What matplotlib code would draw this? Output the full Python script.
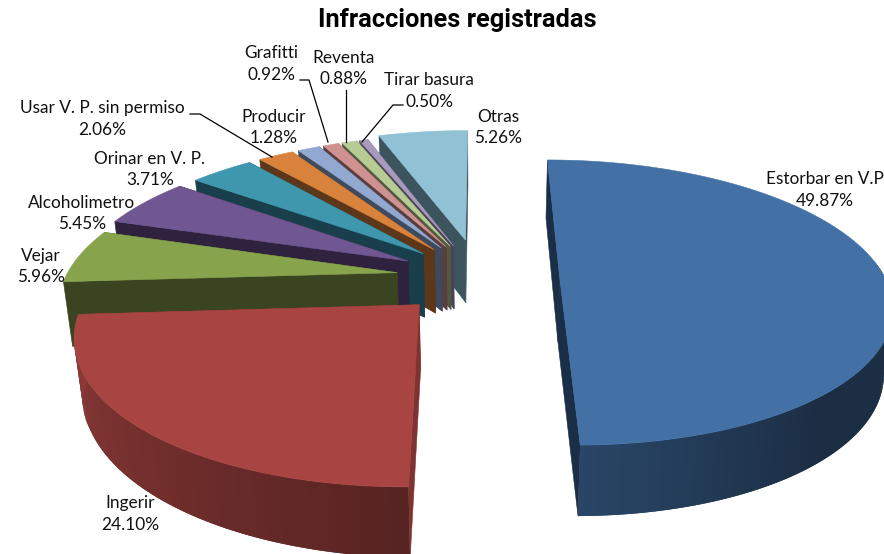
import numpy as np
import matplotlib
matplotlib.use("Agg")
import matplotlib.pyplot as plt
from matplotlib.colors import to_rgb
from matplotlib.patches import Polygon

categories = ["Estorbar en V.P", "Ingerir", "Vejar", "Alcoholimetro", "Orinar en V. P.",
              "Usar V. P. sin permiso", "Producir", "Grafitti", "Reventa", "Tirar basura", "Otras"]
values = [49.87, 24.10, 5.96, 5.45, 3.71, 2.06, 1.28, 0.92, 0.88, 0.50, 5.26]
explode = [0.245, 0.265, 0.258, 0.255, 0.25, 0.25, 0.25, 0.25, 0.25, 0.25, 0.285]
radius = [1.0, 1.0, 1.02, 1.035, 1.035, 1.035, 1.035, 1.035, 1.035, 1.035, 1.03]
top_colors = ["#4371A6", "#A84542", "#87A44D", "#705791", "#3F97AE", "#D9823B",
              "#92A8D0", "#D09291", "#B7CC94", "#A89ABD", "#91C1D4"]
wall_colors = ["#1B2E47", "#7F3331", "#3A4420", "#2F223E", "#1A3F4C", "#5C3719",
               "#3E4A5E", "#5A3E3E", "#505A40", "#4A4356", "#3C545E"]
label_xy = [(825, 190), (130, 514), (41, 266.5), (82, 213.5), (150, 169.5),
            (102, 119), (274, 127.5), (271, 64), (344, 68.5), (429, 91), (498, 127.5)]

CX, CY, R, B, K = 480.0, 277.0, 325.0, 138.0, 0.18
XC, XSHRINK = 480.0, 0.022


def project(u, v):
    s = 1.0 / (1.0 + K * v)
    return CX + R * u * s, CY - B * v * s


def extrude(x, v):
    return -(x - XC) * XSHRINK, 64.5 - 6.5 * v


fig = plt.figure(figsize=(8.84, 5.54), dpi=100)
ax = fig.add_axes([0, 0, 1, 1])
ax.set_xlim(0, 884)
ax.set_ylim(554, 0)
ax.axis("off")

fractions = np.array(values) / sum(values)
starts = np.concatenate([[0], np.cumsum(fractions)[:-1]]) * 2 * np.pi
ends = starts + fractions * 2 * np.pi

z = 2
for i in range(len(values) - 1, -1, -1):
    a0, a1 = starts[i], ends[i]
    mid = 0.5 * (a0 + a1)
    ou, ov = explode[i] * np.sin(mid), explode[i] * np.cos(mid)
    n = max(int((a1 - a0) / 0.015), 6)
    ang = np.linspace(a0, a1, n)
    ru, rv = radius[i] * np.sin(ang) + ou, radius[i] * np.cos(ang) + ov
    rx, ry = project(ru, rv)
    apex_x, apex_y = project(ou, ov)

    dx, dy = extrude(rx, rv)
    trim = 8 * np.clip(-ru, 0, None) * np.clip((-rv - 0.3) / 0.3, 0, 1)
    bx, by = rx + dx, ry + dy - trim
    adx, ady = extrude(apex_x, ov)

    # Radial walls
    for px, py, pv in ((rx[0], ry[0], rv[0]), (rx[-1], ry[-1], rv[-1])):
        ddx, ddy = extrude(px, pv)
        ax.add_patch(Polygon([(apex_x, apex_y), (px, py), (px + ddx, py + ddy),
                              (apex_x + adx, apex_y + ady)],
                             closed=True, facecolor=wall_colors[i], edgecolor=wall_colors[i],
                             lw=0.4, zorder=z))
    z += 1

    # Rim: only the two front slices show it; overlapping quads, light left to dark right
    if i <= 1:
        base = np.array(to_rgb(top_colors[i]))
        for j in range(n - 1):
            am = 0.5 * (ang[j] + ang[j + 1])
            if np.cos(am) > 0.1:
                continue
            deg = np.degrees(am)
            if i == 0:
                f = np.interp(deg, [0, 140, 180], [0.41, 0.41, 0.62])
            else:
                f = np.interp(deg, [180, 270], [0.52, 0.86])
            k = min(j + 2, n - 1)
            ax.add_patch(Polygon([(rx[j], ry[j]), (rx[k], ry[k]), (bx[k], by[k]), (bx[j], by[j])],
                                 closed=True, facecolor=tuple(base * f), edgecolor="none",
                                 zorder=z))
            z += 0.001
        z = np.ceil(z)

    # Top face
    ax.add_patch(Polygon([(apex_x, apex_y)] + list(zip(rx, ry)), closed=True,
                         facecolor=top_colors[i], edgecolor=top_colors[i], lw=0.4, zorder=z))
    z += 1

# Leader lines
leaders = {
    5: [(190, 114), (200, 114), (272, 157)],
    7: [(300, 80), (309, 80), (328, 142)],
    8: [(346, 90), (346, 142)],
    9: [(403, 105), (393, 105), (362, 142)],
}
for pts in leaders.values():
    xs, ys = zip(*pts)
    ax.plot(xs, ys, color="black", lw=0.9, zorder=100, solid_joinstyle="miter")

# Labels
for i, (x, y) in enumerate(label_xy):
    ax.text(x, y, f"{categories[i]}\n{values[i]:.2f}%", ha="center", va="center", fontsize=12.4,
            family="Lato", color="#111111", linespacing=1.42, zorder=101)

ax.text(457, 20, "Infracciones registradas", ha="center", va="center", fontsize=18.3,
        family="Roboto", fontweight="bold", color="black", zorder=101)

fig.savefig("out.png", dpi=100, facecolor="white")
